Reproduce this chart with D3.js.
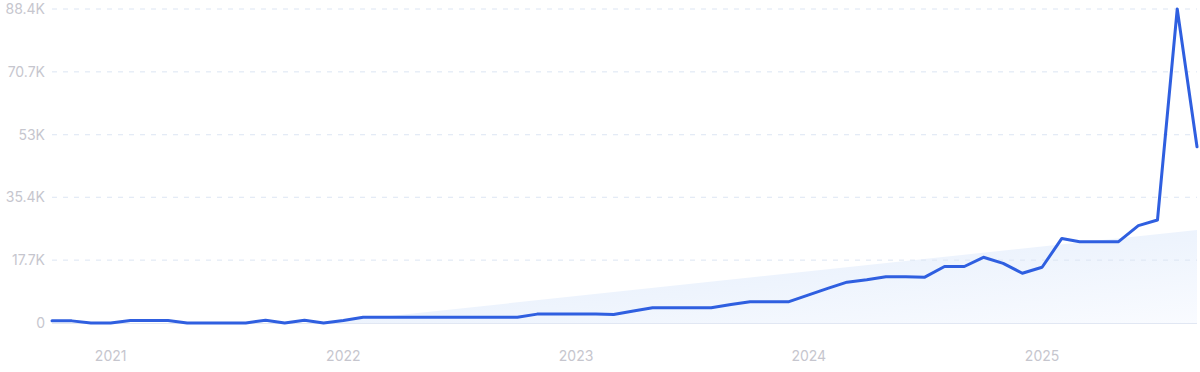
<!DOCTYPE html>
<html>
<head>
<meta charset="utf-8">
<script src="https://cdn.jsdelivr.net/npm/d3@7"></script>
<style>
  body { margin: 0; background: #fff; }
  svg { display: block; font-family: Inter, "Noto Sans", sans-serif; }
</style>
</head>
<body>
<svg id="chart" width="1200" height="372"></svg>
<script>
// monthly values (thousands), Oct 2020 .. Sep 2025
const months = [
  "2020-10","2020-11","2020-12",
  "2021-01","2021-02","2021-03","2021-04","2021-05","2021-06","2021-07","2021-08","2021-09","2021-10","2021-11","2021-12",
  "2022-01","2022-02","2022-03","2022-04","2022-05","2022-06","2022-07","2022-08","2022-09","2022-10","2022-11","2022-12",
  "2023-01","2023-02","2023-03","2023-04","2023-05","2023-06","2023-07","2023-08","2023-09","2023-10","2023-11","2023-12",
  "2024-01","2024-02","2024-03","2024-04","2024-05","2024-06","2024-07","2024-08","2024-09","2024-10","2024-11","2024-12",
  "2025-01","2025-02","2025-03","2025-04","2025-05","2025-06","2025-07","2025-08","2025-09"
];
const values = [
  0.6, 0.6, 0,
  0, 0.7, 0.7, 0.7, 0, 0, 0, 0, 0.8, 0, 0.8, 0,
  0.7, 1.6, 1.6, 1.6, 1.6, 1.6, 1.6, 1.6, 1.6, 1.6, 2.5, 2.5,
  2.5, 2.5, 2.4, 3.4, 4.3, 4.3, 4.3, 4.3, 5.2, 6.0, 6.0, 6.0,
  7.9, 9.8, 11.5, 12.2, 13.0, 13.0, 12.9, 15.9, 15.9, 18.5, 16.8, 14.0,
  15.7, 23.8, 22.9, 22.9, 22.9, 27.4, 29.0, 88.4, 49.6
];
// trend band (thousands), read at its two ends
const trendMonths = ["2021-12", "2025-09"];
const trendValues = [0, 26.2];

const yTicks = [0, 17.7, 35.4, 53, 70.7, 88.4];
const yTickLabels = ["0", "17.7K", "35.4K", "53K", "70.7K", "88.4K"];
const xTicks = ["2021-01", "2022-01", "2023-01", "2024-01", "2025-01"];
const xTickLabels = ["2021", "2022", "2023", "2024", "2025"];

const parse = d3.timeParse("%Y-%m");
const data = months.map((m, i) => ({ date: parse(m), value: values[i] }));
const trend = trendMonths.map((m, i) => ({ date: parse(m), value: trendValues[i] }));

const W = 1200, H = 372;
const margin = { top: 9, right: 3, bottom: 49, left: 52 };

const svg = d3.select("#chart");

const x = d3.scaleTime()
  .domain(d3.extent(data, d => d.date))
  .range([margin.left, W - margin.right]);
const y = d3.scaleLinear()
  .domain([0, 88.4])
  .range([H - margin.bottom, margin.top]);

// gradient for trend area, fading out to the lower right
const defs = svg.append("defs");
const grad = defs.append("linearGradient")
  .attr("id", "trendFill")
  .attr("x1", "0").attr("y1", "0").attr("x2", "1").attr("y2", "1");
grad.append("stop").attr("offset", "0%").attr("stop-color", "#e3edfc");
grad.append("stop").attr("offset", "55%").attr("stop-color", "#eef4fd");
grad.append("stop").attr("offset", "100%").attr("stop-color", "#f9fbff");

// trend area
const area = d3.area()
  .x(d => x(d.date))
  .y0(y(0))
  .y1(d => y(d.value));
svg.append("path")
  .datum(trend)
  .attr("d", area)
  .attr("fill", "url(#trendFill)");

// gridlines
svg.append("g")
  .selectAll("line")
  .data(yTicks.filter(d => d > 0))
  .join("line")
  .attr("x1", margin.left)
  .attr("x2", W - margin.right)
  .attr("y1", d => y(d))
  .attr("y2", d => y(d))
  .attr("stroke", "#dce5f3")
  .attr("stroke-width", 1)
  .attr("stroke-dasharray", "5,6");

// baseline
svg.append("line")
  .attr("x1", margin.left)
  .attr("x2", W - margin.right)
  .attr("y1", y(0) + 0.5)
  .attr("y2", y(0) + 0.5)
  .attr("stroke", "#e1e7f3")
  .attr("stroke-width", 1);

// y labels
svg.append("g")
  .selectAll("text")
  .data(yTicks)
  .join("text")
  .attr("x", 45)
  .attr("y", d => y(d))
  .attr("dy", "0.35em")
  .attr("text-anchor", "end")
  .attr("fill", "#c6c6ce")
  .style("font-size", "14px")
  .text((d, i) => yTickLabels[i]);

// x labels
svg.append("g")
  .selectAll("text")
  .data(xTicks)
  .join("text")
  .attr("x", d => x(parse(d)))
  .attr("y", 361)
  .attr("text-anchor", "middle")
  .attr("fill", "#c6c6ce")
  .style("font-size", "14px")
  .text((d, i) => xTickLabels[i]);

// main line
const line = d3.line()
  .x(d => x(d.date))
  .y(d => y(d.value));
svg.append("path")
  .datum(data)
  .attr("d", line)
  .attr("fill", "none")
  .attr("stroke", "#2f5fe0")
  .attr("stroke-width", 3)
  .attr("stroke-linejoin", "round")
  .attr("stroke-linecap", "round");
</script>
</body>
</html>
